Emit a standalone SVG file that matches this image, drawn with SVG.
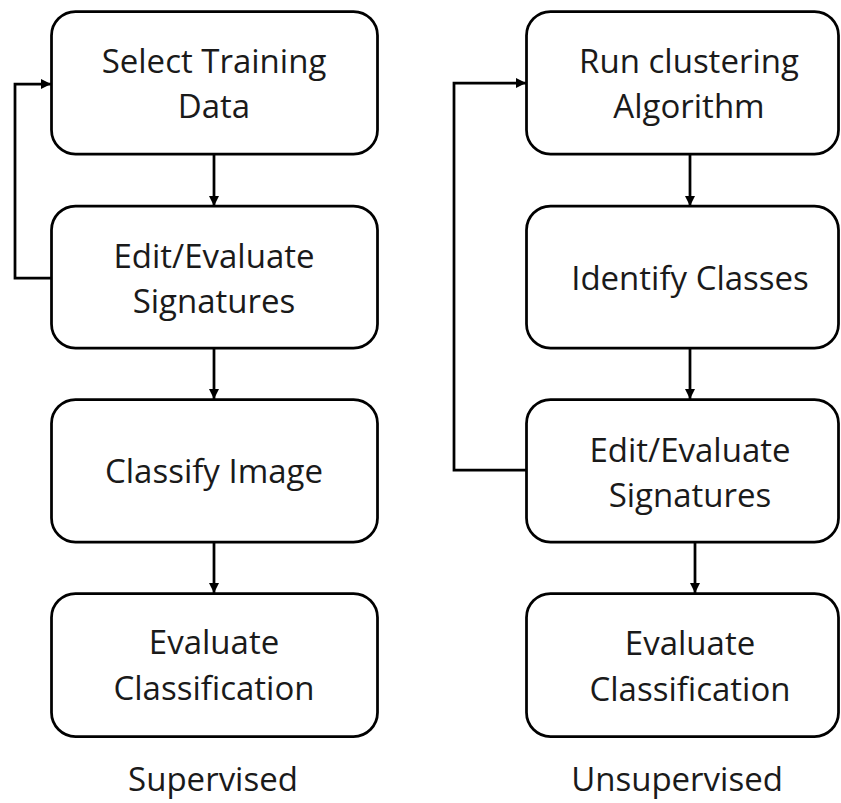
<svg xmlns="http://www.w3.org/2000/svg" width="841" height="803" viewBox="0 0 841 803">
<defs>
<marker id="ah" markerWidth="10" markerHeight="10" refX="10" refY="5" orient="auto" markerUnits="userSpaceOnUse">
<path d="M0,0 L10,5 L0,10 Z" fill="#000"/>
</marker>
<style>
.box{fill:#fff;stroke:#000;stroke-width:2.75}
.t{font-family:"Open Sans","Noto Sans",sans-serif;font-size:33px;fill:#1a1a1a;text-anchor:middle}
.c{fill:none;stroke:#000;stroke-width:2.75}
</style>
</defs>
<rect width="841" height="803" fill="#fff"/>
<g id="connectors">
<path class="c" d="M214,154 V206" marker-end="url(#ah)"/>
<path class="c" d="M214,348 V399" marker-end="url(#ah)"/>
<path class="c" d="M214,542 V593" marker-end="url(#ah)"/>
<path class="c" d="M51,278 H15 V84 H51" marker-end="url(#ah)"/>
<path class="c" d="M690,154 V206" marker-end="url(#ah)"/>
<path class="c" d="M690,348 V399" marker-end="url(#ah)"/>
<path class="c" d="M695,542 V593" marker-end="url(#ah)"/>
<path class="c" d="M526,470 H454 V83 H526" marker-end="url(#ah)"/>
</g>
<g id="s1"><rect class="box" x="51.5" y="11.5" width="326" height="142.5" rx="24"/><text class="t" x="214" y="73">Select Training</text><text class="t" x="214" y="118">Data</text></g>
<g id="s2"><rect class="box" x="51.5" y="206" width="326" height="142" rx="24"/><text class="t" x="214" y="268">Edit/Evaluate</text><text class="t" x="214" y="313">Signatures</text></g>
<g id="s3"><rect class="box" x="51.5" y="399.5" width="326" height="142.5" rx="24"/><text class="t" x="214" y="483">Classify Image</text></g>
<g id="s4"><rect class="box" x="51.5" y="593.5" width="326" height="143" rx="24"/><text class="t" x="214" y="654">Evaluate</text><text class="t" x="214" y="700">Classification</text></g>
<g id="u1"><rect class="box" x="526.5" y="11.5" width="312" height="142.5" rx="24"/><text class="t" x="689" y="73">Run clustering</text><text class="t" x="689" y="118">Algorithm</text></g>
<g id="u2"><rect class="box" x="526.5" y="206" width="312" height="142" rx="24"/><text class="t" x="690" y="290">Identify Classes</text></g>
<g id="u3"><rect class="box" x="526.5" y="399.5" width="312" height="142.5" rx="24"/><text class="t" x="690" y="462">Edit/Evaluate</text><text class="t" x="690" y="507">Signatures</text></g>
<g id="u4"><rect class="box" x="526.5" y="593.5" width="312" height="143" rx="24"/><text class="t" x="690" y="655">Evaluate</text><text class="t" x="690" y="701">Classification</text></g>
<g id="labels"><text class="t" x="213" y="791">Supervised</text><text class="t" x="677" y="791">Unsupervised</text></g>
</svg>
